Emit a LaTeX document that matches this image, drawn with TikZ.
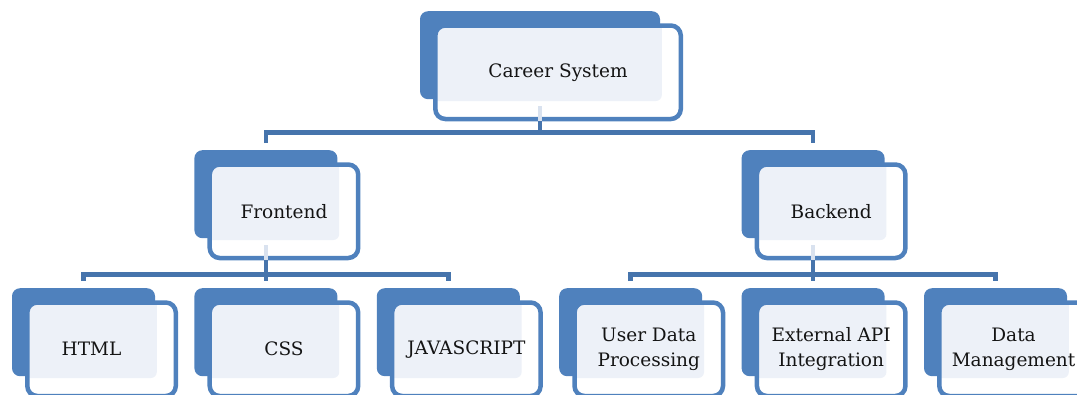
\documentclass[tikz,border=0pt]{standalone}
\usepackage{fontspec}
\setmainfont{DejaVu Serif}
\definecolor{boxblue}{HTML}{4F81BD}
\definecolor{linkblue}{HTML}{4674AC}
\definecolor{lightfill}{HTML}{EDF1F8}
\definecolor{paleline}{HTML}{D9E2EF}
\definecolor{txt}{HTML}{141414}
\tikzset{
  backbox/.style={fill=boxblue, draw=none, rounded corners=8pt, minimum height=88pt, inner sep=0pt},
  frontbox/.style={fill=white, draw=boxblue, line width=4.5pt, rounded corners=10pt,
    minimum height=93.5pt, inner sep=0pt, text=txt, align=center,
    font=\fontsize{18.5}{25}\selectfont,
    path picture={\fill[lightfill, rounded corners=6pt]
      ([xshift=-5pt,yshift=5pt]path picture bounding box.north west) rectangle
      ([xshift=-19pt,yshift=18pt]path picture bounding box.south east);}},
  link/.style={draw=linkblue, line width=4.5pt},
  pale/.style={draw=paleline, line width=4pt},
}
\newcommand\orgbox[5]{%
  \node[backbox, minimum width=#4pt, anchor=north] (#1-b) at (#2,#3) {};
  \node[frontbox, minimum width=#4pt+5.5pt, anchor=north west] (#1)
    at ([xshift=13.25pt,yshift=-12.25pt]#1-b.north west) {#5};
}
\begin{document}
\begin{tikzpicture}[x=1pt,y=-1pt]
\useasboundingbox (0,0) rectangle (1077,394);
\clip (0,0) rectangle (1077,394);
% boxes
\orgbox{career}{540}{11}{240}{Career System}
\orgbox{frontend}{265.9}{150}{143}{Frontend}
\orgbox{backend}{813.1}{150}{143}{Backend}
\orgbox{html}{83.5}{288}{143}{HTML\hspace*{20pt}}
\orgbox{css}{265.9}{288}{143}{CSS}
\orgbox{js}{448.3}{288}{143}{JAVASCRIPT}
\orgbox{udp}{630.7}{288}{143}{User Data\\Processing}
\orgbox{api}{813.1}{288}{143}{External API\\Integration}
\orgbox{dm}{995.5}{288}{143}{Data\\Management}
% connectors: top level
\draw[pale] ([yshift=-7pt]career-b.south) -- (career-b.south |- career.south);
\draw[link] (career-b.south |- career.south) -- ++(0,11) coordinate (busA);
\draw[link] ([yshift=7pt]frontend-b.north) |- (busA) -| ([yshift=7pt]backend-b.north);
% connectors: frontend
\draw[pale] ([yshift=-7pt]frontend-b.south) -- (frontend-b.south |- frontend.south);
\draw[link] (frontend-b.south |- frontend.south) -- ++(0,14) coordinate (busB);
\draw[link] ([yshift=7pt]html-b.north) |- (busB) -| ([yshift=7pt]js-b.north);
\draw[link] (busB) -- ([yshift=7pt]css-b.north);
% connectors: backend
\draw[pale] ([yshift=-7pt]backend-b.south) -- (backend-b.south |- backend.south);
\draw[link] (backend-b.south |- backend.south) -- ++(0,14) coordinate (busC);
\draw[link] ([yshift=7pt]udp-b.north) |- (busC) -| ([yshift=7pt]dm-b.north);
\draw[link] (busC) -- ([yshift=7pt]api-b.north);
\end{tikzpicture}
\end{document}
